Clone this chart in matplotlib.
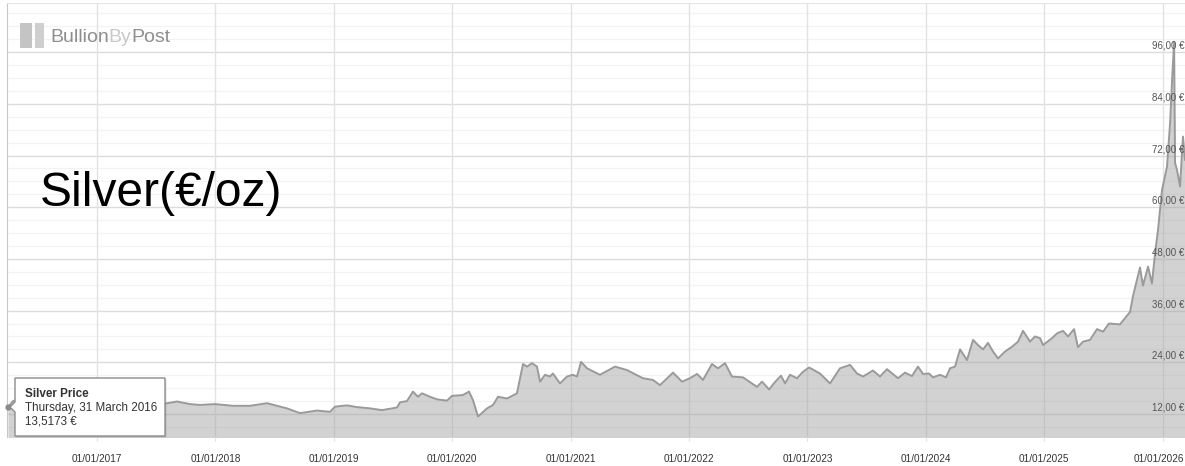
import matplotlib
matplotlib.use("Agg")
import matplotlib.pyplot as plt
from matplotlib.patches import Polygon, Rectangle
import matplotlib.transforms as mtransforms

plt.rcParams['font.family'] = ['Liberation Sans', 'DejaVu Sans']

# ---- data (decimal year, EUR per ounce) ----
years = [2016.248, 2016.29, 2016.37, 2016.45, 2016.52, 2016.61, 2016.69, 2016.77, 2016.86,
         2016.95, 2017.04, 2017.13, 2017.20, 2017.29, 2017.36, 2017.44, 2017.52,
         2017.574, 2017.676, 2017.785, 2017.870, 2017.997, 2018.149, 2018.292, 2018.436,
         2018.605, 2018.715, 2018.858, 2018.968, 2019.010, 2019.111, 2019.196, 2019.306,
         2019.407, 2019.534, 2019.559, 2019.618, 2019.669, 2019.711, 2019.745, 2019.813,
         2019.872, 2019.956, 2019.998, 2020.091, 2020.142, 2020.176, 2020.218, 2020.294,
         2020.345, 2020.387, 2020.463, 2020.547, 2020.573, 2020.598, 2020.632, 2020.674,
         2020.716, 2020.742, 2020.784, 2020.826, 2020.851, 2020.910, 2020.970, 2021.020,
         2021.054, 2021.088, 2021.139, 2021.248, 2021.375, 2021.476, 2021.611, 2021.696,
         2021.755, 2021.865, 2021.941, 2022.008, 2022.068, 2022.118, 2022.194, 2022.245,
         2022.304, 2022.363, 2022.456, 2022.574, 2022.617, 2022.676, 2022.726, 2022.777,
         2022.811, 2022.853, 2022.912, 2022.963, 2023.014, 2023.106, 2023.191, 2023.275,
         2023.360, 2023.419, 2023.470, 2023.554, 2023.613, 2023.672, 2023.765, 2023.824,
         2023.883, 2023.934, 2023.976, 2024.027, 2024.061, 2024.120, 2024.171, 2024.204,
         2024.247, 2024.289, 2024.348, 2024.399, 2024.441, 2024.483, 2024.525, 2024.568,
         2024.610, 2024.669, 2024.728, 2024.779, 2024.821, 2024.880, 2024.922, 2024.965,
         2024.990, 2025.066, 2025.108, 2025.159, 2025.201, 2025.252, 2025.285, 2025.328,
         2025.387, 2025.446, 2025.497, 2025.547, 2025.640, 2025.725, 2025.750, 2025.809,
         2025.834, 2025.877, 2025.910, 2025.936, 2025.961, 2025.995, 2026.037, 2026.063,
         2026.080, 2026.097, 2026.105, 2026.122, 2026.147, 2026.172, 2026.189]
prices = [13.52, 15.0, 15.6, 15.5, 17.6, 17.4, 16.9, 15.6, 16.0,
          15.2, 15.6, 16.8, 16.0, 16.9, 15.3, 15.0, 14.2,
          14.4, 14.9, 14.3, 14.1, 14.3, 13.9, 13.9, 14.5,
          13.3, 12.2, 12.8, 12.5, 13.7, 14.0, 13.6, 13.3,
          12.9, 13.5, 14.7, 15.0, 17.2, 16.0, 16.8, 16.0,
          15.4, 15.1, 16.2, 16.4, 17.2, 15.2, 11.4, 13.3,
          14.1, 16.0, 15.6, 16.8, 20.3, 23.6, 23.0, 23.8,
          23.0, 19.5, 21.1, 20.7, 21.4, 19.1, 20.7, 21.1,
          20.7, 24.1, 22.6, 21.1, 23.0, 22.2, 20.3, 19.9,
          18.7, 21.6, 19.5, 20.3, 21.3, 19.9, 23.6, 22.6,
          23.8, 20.7, 20.5, 18.3, 19.5, 17.7, 19.4, 20.9,
          19.1, 21.1, 20.3, 21.8, 22.8, 21.4, 19.1, 22.6,
          23.4, 21.4, 20.7, 22.1, 20.7, 22.4, 20.3, 21.6,
          20.8, 23.0, 21.3, 21.4, 20.5, 21.1, 20.5, 22.6,
          23.0, 27.0, 24.5, 29.2, 28.0, 27.0, 28.5, 26.5,
          24.9, 26.5, 27.6, 28.8, 31.3, 28.8, 30.0, 29.6,
          28.0, 29.6, 30.7, 31.3, 30.0, 31.7, 27.5, 28.8,
          29.2, 31.7, 31.1, 33.0, 32.8, 35.7, 39.4, 46.0,
          41.8, 46.2, 42.3, 49.3, 54.7, 64.0, 69.4, 79.5,
          89.5, 98.4, 70.3, 68.6, 64.8, 76.4, 71.0]

x_ticks = [2017, 2018, 2019, 2020, 2021, 2022, 2023, 2024, 2025, 2026]
x_labels = ['01/01/2017', '01/01/2018', '01/01/2019', '01/01/2020', '01/01/2021',
            '01/01/2022', '01/01/2023', '01/01/2024', '01/01/2025', '01/01/2026']
y_major = [12, 24, 36, 48, 60, 72, 84, 96]
y_labels = ['12,00 €', '24,00 €', '36,00 €', '48,00 €', '60,00 €', '72,00 €', '84,00 €', '96,00 €']
y_minor = [9, 15, 18, 21, 27, 30, 33, 39, 42, 45, 51, 54, 57, 63, 66, 69, 75, 78, 81,
           87, 90, 93, 99, 102, 105]

W, H = 1185, 466
fig = plt.figure(figsize=(W / 100, H / 100), dpi=100)
fig.patch.set_facecolor('white')


def P(x, y):
    return (x / W, 1 - y / H)


ax = fig.add_axes([7 / W, (H - 437) / H, 1178 / W, 434 / H])
ax.set_xlim(2016.240, 2026.189)
ax.set_ylim(6.66, 107.4)
for s in ['right', 'bottom']:
    ax.spines[s].set_visible(False)
ax.spines['left'].set_color('#c8c8c8')
ax.spines['top'].set_color('#e6e6e6')

# grid
for v in y_minor:
    ax.axhline(v, color='#f3f3f3', lw=0.9, zorder=0)
for v in y_major:
    ax.axhline(v, color='#dcdcdc', lw=1.0, zorder=0)
for v in x_ticks:
    ax.axvline(v, color='#e2e2e2', lw=1.0, zorder=0)

# series
ax.fill_between(years, prices, 0, color='#a6a6a6', alpha=0.5, lw=0, zorder=1)
ax.plot(years, prices, color='#9a9a9a', lw=1.4, zorder=2, solid_joinstyle='round')
ax.plot(years[0], prices[0], 'o', ms=3.5, color='#8a8a8a', zorder=3, clip_on=False)

# x ticks
ax.set_xticks(x_ticks)
ax.set_xticklabels(x_labels, fontsize=7.2, color='#333333')
ax.tick_params(axis='x', length=3, color='#e2e2e2', pad=9)
ax.set_yticks([])
last = ax.get_xticklabels()[-1]
last.set_horizontalalignment('right')
last.set_transform(last.get_transform() +
                   mtransforms.ScaledTranslation(22 / 100, 0, fig.dpi_scale_trans))

# y labels (inside, on the right, above the gridlines)
trans = mtransforms.blended_transform_factory(fig.transFigure, ax.transData)
off = mtransforms.ScaledTranslation(0, 1.5 / 100, fig.dpi_scale_trans)
for v, lab in zip(y_major, y_labels):
    ax.text(1184 / W, v, lab, transform=trans + off, fontsize=7.0, color='#555555',
            ha='right', va='bottom', zorder=5, clip_on=False)

# big title text
fig.text(*P(40, 193), 'Silver(€/oz)', fontsize=34.5, color='black', ha='left', va='center')

# logo
fig.patches.append(Rectangle(P(20, 48), 12 / W, 25 / H, transform=fig.transFigure,
                             facecolor='#c4c4c4', edgecolor='none'))
fig.patches.append(Rectangle(P(35, 48), 9 / W, 25 / H, transform=fig.transFigure,
                             facecolor='#cfcfcf', edgecolor='none'))
logo_fs = 14
t1 = fig.text(*P(50, 38), 'Bullion', fontsize=logo_fs, color='#8e8e8e', ha='left', va='center')
fig.canvas.draw()
r = fig.canvas.get_renderer()
bb = t1.get_window_extent(r)
t2 = fig.text(bb.x1 / W, 1 - 38 / H, 'By', fontsize=logo_fs, color='#c9c9c9', ha='left',
              va='center')
bb2 = t2.get_window_extent(r)
fig.text(bb2.x1 / W, 1 - 38 / H, 'Post', fontsize=logo_fs, color='#8e8e8e', ha='left',
         va='center')

# tooltip
pts = [(15, 378), (165, 378), (165, 436), (15, 436), (15, 412), (10, 407), (15, 402)]
shadow = Polygon([P(x + 1.5, y + 1.5) for x, y in pts], closed=True, transform=fig.transFigure,
                 facecolor='#000000', alpha=0.12, edgecolor='none', zorder=9)
box = Polygon([P(x, y) for x, y in pts], closed=True, transform=fig.transFigure,
              facecolor='white', edgecolor='#8c8c8c', lw=1.0, zorder=10)
fig.patches.append(shadow)
fig.patches.append(box)
fig.text(*P(25, 394), 'Silver Price', fontsize=8.4, fontweight='bold', color='#333333',
         ha='left', va='center', zorder=11)
fig.text(*P(25, 408), 'Thursday, 31 March 2016', fontsize=8.4, color='#333333',
         ha='left', va='center', zorder=11)
fig.text(*P(25, 421), '13,5173 €', fontsize=8.4, color='#333333',
         ha='left', va='center', zorder=11)

fig.savefig('out.png', dpi=100, facecolor='white')
